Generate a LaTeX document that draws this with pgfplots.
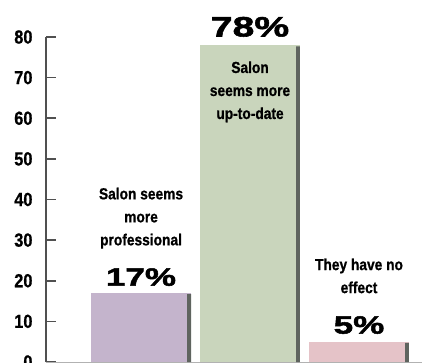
\documentclass[border=0pt]{standalone}
\usepackage{pgfplots}
\pgfplotsset{compat=1.18}
\usepackage{fontspec}
\setmainfont{Liberation Sans}
\newfontfamily\condfont[FakeStretch=0.86, FakeBold=0.8]{Liberation Sans}
\newfontfamily\pctfont[FakeStretch=1.4, FakeBold=2]{Liberation Sans}
\definecolor{cpurple}{RGB}{196,180,204}
\definecolor{cgreen}{RGB}{201,213,188}
\definecolor{cpink}{RGB}{229,195,200}
\definecolor{shadowc}{RGB}{95,100,95}
\definecolor{axisc}{RGB}{80,80,80}
\begin{document}
\begin{tikzpicture}
\path[use as bounding box] (0,0) rectangle (422pt,362pt);
\begin{axis}[
  at={(46pt,0pt)}, anchor=south west,
  scale only axis, width=376pt, height=325pt,
  xmin=-0.872, xmax=2.578, ymin=0, ymax=80,
  axis y line*=left, axis x line*=bottom,
  x axis line style={draw=gray!60, line width=0.6pt, -},
  y axis line style={draw=axisc, line width=1.6pt, -},
  xtick=\empty,
  ytick={0,10,...,80},
  tick align=inside, major tick length=10pt,
  ytick style={draw=axisc, line width=1.6pt},
  yticklabel style={anchor=east, xshift=-10pt, font=\condfont\bfseries\fontsize{19}{20}\selectfont},
  /pgf/number format/assume math mode=true,
  clip=false,
]
\addplot[ybar, bar width=0.917, bar shift=0, fill=cpurple, draw=none] coordinates {(0,17)};
\addplot[ybar, bar width=0.917, bar shift=0, fill=cgreen, draw=none] coordinates {(1,78)};
\addplot[ybar, bar width=0.917, bar shift=0, fill=cpink, draw=none] coordinates {(2,5)};
\addplot[ybar, fill=shadowc, draw=none, bar width=0.035, bar shift=0.441] coordinates {(0,16.7) (1,77.7) (2,4.7)};
\node[font=\condfont\bfseries\fontsize{16}{23}\selectfont, align=center] at (axis cs:0,35.4) {Salon seems\\more\\professional};
\node[font=\pctfont\bfseries\fontsize{25}{25}\selectfont] at (axis cs:0,20.9) {17\%};
\node[font=\pctfont\bfseries\fontsize{28}{28}\selectfont] at (axis cs:1,82.5) {78\%};
\node[font=\condfont\bfseries\fontsize{16}{23}\selectfont, align=center] at (axis cs:1,66.5) {Salon\\seems more\\up-to-date};
\node[font=\condfont\bfseries\fontsize{16}{23}\selectfont, align=center] at (axis cs:2,21.2) {They have no\\effect};
\node[font=\pctfont\bfseries\fontsize{25}{25}\selectfont] at (axis cs:2,9.1) {5\%};
\end{axis}
\end{tikzpicture}
\end{document}
